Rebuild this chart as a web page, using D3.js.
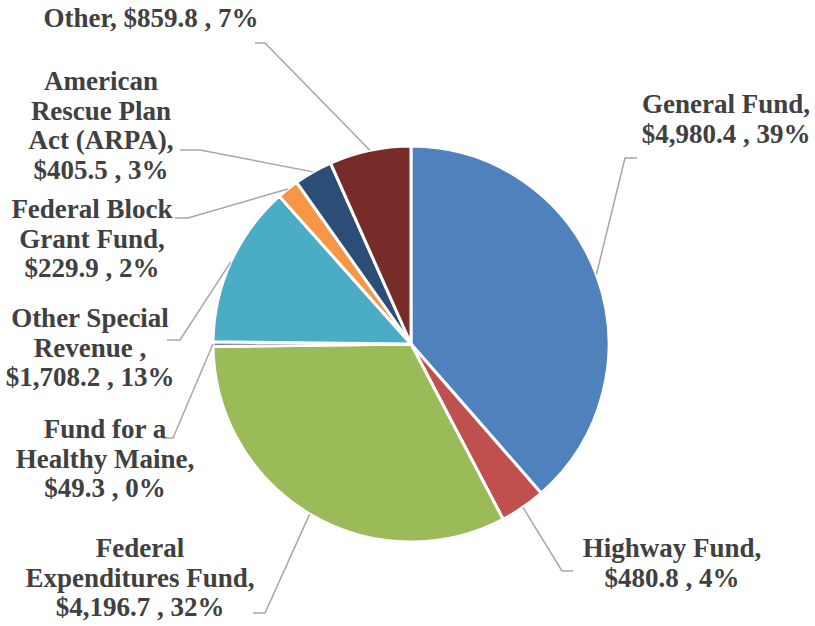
<!DOCTYPE html>
<html><head><meta charset="utf-8">
<script src="https://cdn.jsdelivr.net/npm/d3@7"></script>
<style>body{margin:0;background:#fff}svg{display:block}</style>
</head><body>
<script>
const categories = ["General Fund","Highway Fund","Federal Expenditures Fund","Fund for a Healthy Maine","Other Special Revenue","Federal Block Grant Fund","American Rescue Plan Act (ARPA)","Other"];
const values = [4980.4, 480.8, 4196.7, 49.3, 1708.2, 229.9, 405.5, 859.8];
const percents = [39, 4, 32, 0, 13, 2, 3, 7];
const colors = ["#4F81BD","#C0504D","#9BBB59","#8064A2","#4BACC6","#F79646","#2C4D75","#772C2A"];
const nameLines = [["General Fund,"],["Highway Fund,"],["Federal","Expenditures Fund,"],["Fund for a","Healthy Maine,"],["Other Special","Revenue ,"],["Federal Block","Grant Fund,"],["American","Rescue Plan","Act (ARPA),"],["Other,"]];
const joinValue = [false,false,false,false,false,false,false,true];
// label layout: center x, first baseline y, leader elbow and end
const labelPos = [[726,113],[672,557],[140,557],[105,438],[90,327],[92,218],[101,90],[151,27]];
const leaderPts = [[[625,158],[637,158]],[[562,571],[573,571]],[[265,613],[253,613]],[[173,438],[163,438]],[[180,340],[167,340]],[[188,218],[175,218]],[[200,150],[180,150]],[[265,43],[255,43]]];

const W=815,H=626, cx=411, cy=344, r=198;
const svg=d3.select("body").append("svg").attr("width",W).attr("height",H);
const pie=d3.pie().sort(null).value(d=>d)(values);
const arc=d3.arc().innerRadius(0).outerRadius(r);
const g=svg.append("g").attr("transform",`translate(${cx},${cy})`);
g.selectAll("path").data(pie).join("path").attr("d",arc)
  .attr("fill",(d,i)=>colors[i]).attr("stroke","#fff").attr("stroke-width",3).attr("stroke-linejoin","round");

const fmtV=d3.format("$,.1f");
pie.forEach((d,i)=>{
  const a=(d.startAngle+d.endAngle)/2;
  const p0=[cx+r*Math.sin(a), cy-r*Math.cos(a)];
  const pts=[p0,leaderPts[i][0],leaderPts[i][1]];
  svg.append("path").attr("d",d3.line()(pts)).attr("fill","none").attr("stroke","#A6A6A6").attr("stroke-width",1.5);
});
pie.forEach((d,i)=>{
  const valTxt=fmtV(values[i])+" , "+percents[i]+"%";
  let lines=nameLines[i].slice();
  if(joinValue[i]) lines[lines.length-1]+=" "+valTxt; else lines.push(valTxt);
  const t=svg.append("text").attr("x",labelPos[i][0]).attr("y",labelPos[i][1])
    .attr("text-anchor","middle").attr("font-family","Liberation Serif").style("font-family","'Liberation Serif', serif")
    .attr("font-weight","bold").attr("font-size",27).attr("fill","#404040");
  lines.forEach((l,j)=>t.append("tspan").attr("x",labelPos[i][0]).attr("y",labelPos[i][1]+j*29.7).text(l));
});
</script>
</body></html>
